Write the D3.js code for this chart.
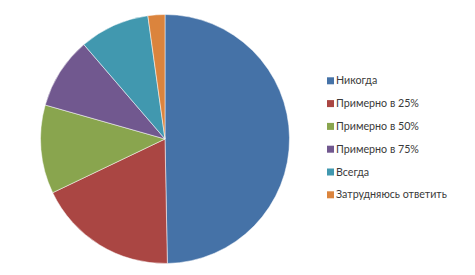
<!DOCTYPE html>
<html><head><meta charset="utf-8">
<script src="https://cdn.jsdelivr.net/npm/d3@7"></script>
<style>body{margin:0;background:#fff}svg{display:block}</style>
</head><body>
<svg id="c" width="475" height="275"></svg>
<script>
const categories = ["Никогда","Примерно в 25%","Примерно в 50%","Примерно в 75%","Всегда","Затрудняюсь ответить"];
const values = [49.7, 18.2, 11.5, 9.3, 9.1, 2.2];
const colors = ["#4572A7","#AA4643","#89A54E","#71588F","#4198AF","#DB843D"];

const svg = d3.select("#c");
const cx = 165, cy = 139, r = 124.5;
const pie = d3.pie().sort(null).value(d => d)(values);
const arc = d3.arc().innerRadius(0).outerRadius(r);
const g = svg.append("g").attr("transform", `translate(${cx},${cy})`);
g.selectAll("path").data(pie).enter().append("path")
  .attr("d", arc).attr("fill", (d,i) => colors[i])
  .attr("stroke", "#fff").attr("stroke-width", 0.5);

const color = d3.scaleOrdinal().domain(categories).range(colors);
const ly = d3.scalePoint().domain(categories).range([84.3, 198.3]);
const leg = svg.append("g");
const items = leg.selectAll("g").data(categories).enter().append("g")
  .attr("transform", d => `translate(327,${ly(d)})`);
items.append("rect").attr("x", 0).attr("y", -7).attr("width", 7).attr("height", 7)
  .attr("fill", d => color(d));
items.append("text").attr("x", 9).attr("y", 0)
  .attr("font-family", "Lato, 'Open Sans', sans-serif").attr("font-size", 10.7)
  .attr("fill", "#3a3a3a").text(d => d);
</script>
</body></html>
